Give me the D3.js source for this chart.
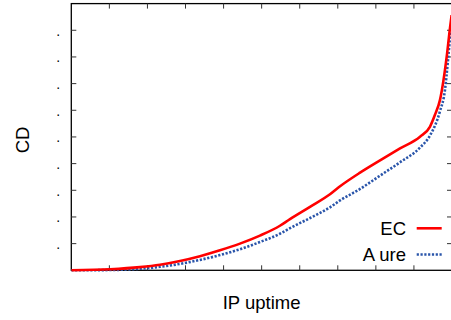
<!DOCTYPE html>
<html><head><meta charset="utf-8">
<script src="https://cdn.jsdelivr.net/npm/d3@7"></script>
<style>body{margin:0;background:#fff}svg{display:block}text{font-family:"Liberation Sans",Arial,sans-serif}</style>
</head><body><svg id="c" width="451" height="320"></svg>
<script>
const ecX = [0, 1.017, 1.805, 2.33, 2.855, 3.38, 3.905, 4.43, 4.955, 5.48, 5.745, 6.27, 6.795, 7.06, 7.585, 8.11, 8.635, 9.16, 9.42, 9.55, 9.685, 9.86, 9.95, 9.99];
const ecY = [0, 0.004, 0.012, 0.021, 0.035, 0.053, 0.075, 0.1, 0.13, 0.167, 0.192, 0.238, 0.285, 0.315, 0.366, 0.412, 0.457, 0.501, 0.538, 0.582, 0.639, 0.80, 0.912, 0.957];
const azX = [0, 1.017, 2.33, 2.855, 3.38, 3.905, 4.43, 4.955, 5.48, 5.745, 6.27, 6.795, 7.06, 7.585, 8.11, 8.635, 9.16, 9.42, 9.685, 9.815, 9.895, 9.975];
const azY = [0, 0.001, 0.013, 0.024, 0.039, 0.057, 0.079, 0.106, 0.137, 0.158, 0.196, 0.236, 0.262, 0.305, 0.355, 0.405, 0.46, 0.505, 0.597, 0.676, 0.788, 0.92];
const xTicks = [0,1,2,3,4,5,6,7,8,9,10];
const yTicks = [0,0.1,0.2,0.3,0.4,0.5,0.6,0.7,0.8,0.9,1];
const yTickLabels = ["", ".", ".", ".", ".", ".", ".", ".", ".", ".", ""];
const seriesNames = ["EC", "A ure"];
const xTitle = "IP uptime", yTitle = "CD";

const svg = d3.select("#c");
const L = 71.3, R = 452, T = 3.6, B = 270.3;
const x = d3.scaleLinear().domain([0,10]).range([L,R]);
const y = d3.scaleLinear().domain([0,1]).range([B,T]);

svg.append("rect").attr("x",L).attr("y",T).attr("width",R-L).attr("height",B-T)
  .attr("fill","none").attr("stroke","#000").attr("stroke-width",1.3);

const tl = 5;
const g = svg.append("g");
g.selectAll(".lt").data(yTicks.slice(1,-1)).join("line")
  .attr("x1",L).attr("x2",L+tl).attr("y1",d=>y(d)).attr("y2",d=>y(d)).attr("stroke","#333");
g.selectAll(".rt").data(yTicks.slice(1,-1)).join("line")
  .attr("x1",R).attr("x2",R-tl).attr("y1",d=>y(d)).attr("y2",d=>y(d)).attr("stroke","#333");
g.selectAll(".bt").data(xTicks.slice(1,-1)).join("line")
  .attr("x1",d=>x(d)).attr("x2",d=>x(d)).attr("y1",B).attr("y2",B-tl).attr("stroke","#333");
g.selectAll(".tt").data(xTicks.slice(1,-1)).join("line")
  .attr("x1",d=>x(d)).attr("x2",d=>x(d)).attr("y1",T).attr("y2",T+tl).attr("stroke","#333");
g.selectAll(".yl").data(yTicks).join("text")
  .attr("x",58.3).attr("y",d=>y(d)+5.3).attr("text-anchor","middle")
  .attr("font-size",14).attr("fill","#000").text((d,i)=>yTickLabels[i]);

const line = d3.line().curve(d3.curveMonotoneX).x(d=>x(d[0])).y(d=>y(d[1]));
const ec = ecX.map((v,i)=>[v,ecY[i]]);
const az = azX.map((v,i)=>[v,azY[i]]);

svg.append("clipPath").attr("id","cp").append("rect")
  .attr("x",L).attr("y",T).attr("width",R-L).attr("height",B-T+3);
const pg = svg.append("g").attr("clip-path","url(#cp)");
pg.append("path").datum(az).attr("d",line).attr("fill","none")
  .attr("stroke","#2a55aa").attr("stroke-width",2.6).attr("stroke-dasharray","2.2,1.6");
pg.append("path").datum(ec).attr("d",line).attr("fill","none")
  .attr("stroke","#ff0000").attr("stroke-width",2.6);

const leg = [{n:seriesNames[0], c:"#ff0000", d:null, y:228.3},{n:seriesNames[1], c:"#2a55aa", d:"2.2,1.6", y:254.5}];
leg.forEach(l=>{
  svg.append("text").attr("x",406).attr("y",l.y+6.8).attr("text-anchor","end")
    .attr("font-size",18.5).attr("fill","#000").text(l.n);
  svg.append("line").attr("x1",416.7).attr("x2",441.7).attr("y1",l.y).attr("y2",l.y)
    .attr("stroke",l.c).attr("stroke-width",2.6).attr("stroke-dasharray",l.d);
});

svg.append("text").attr("x",(L+R)/2).attr("y",308.5).attr("text-anchor","middle")
  .attr("font-size",18.5).attr("fill","#000").text(xTitle);
svg.append("text").attr("transform","translate(28.5,140) rotate(-90)").attr("text-anchor","middle")
  .attr("font-size",18.5).attr("fill","#000").text(yTitle);
</script></body></html>
